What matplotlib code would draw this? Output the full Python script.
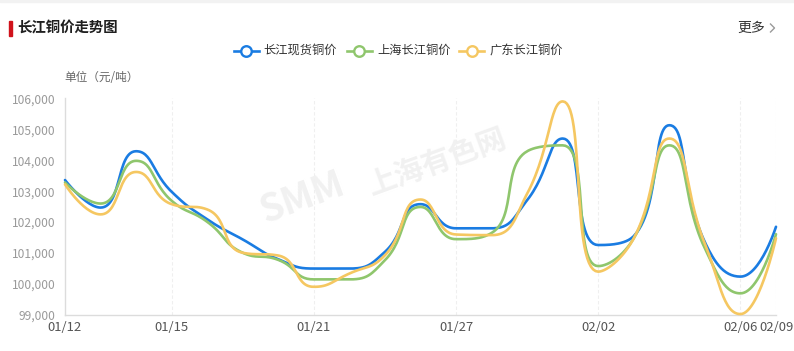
import numpy as np
import matplotlib
matplotlib.use("Agg")
import matplotlib.pyplot as plt
from matplotlib.lines import Line2D
from matplotlib.patches import Rectangle
from matplotlib.ticker import FuncFormatter

plt.rcParams['font.family'] = ['Noto Sans CJK SC', 'DejaVu Sans']

# Trading days
dates = ["01/12", "01/13", "01/14", "01/15", "01/16", "01/19", "01/20",
         "01/21", "01/22", "01/23", "01/26", "01/27", "01/28", "01/29",
         "01/30", "02/02", "02/03", "02/04", "02/05", "02/06", "02/09"]
tick_dates = ["01/12", "01/15", "01/21", "01/27", "02/02", "02/06", "02/09"]

# Prices, yuan per tonne
cj_spot = [103360, 102470, 104290, 102980, 102090, 101440, 100800, 100500,
           100500, 101040, 102580, 101800, 101800, 102710, 104700, 101260,
           101550, 105130, 101350, 100240, 101850]
sh_cj = [103280, 102600, 103980, 102690, 102010, 101010, 100780, 100150,
         100150, 100770, 102490, 101450, 101650, 104290, 104480, 100580,
         101480, 104480, 101150, 99700, 101610]
gd_cj = [103220, 102250, 103620, 102580, 102410, 101010, 100920, 99910,
         100340, 100930, 102730, 101600, 101580, 102920, 105900, 100400,
         101480, 104700, 101300, 99030, 101480]

series_names = ["长江现货铜价", "上海长江铜价", "广东长江铜价"]
series_values = [cj_spot, sh_cj, gd_cj]
colors = ["#1a7ce2", "#8fc66d", "#f5c761"]

y_ticks = list(range(99000, 106001, 1000))

W, H = 794, 351
fig = plt.figure(figsize=(W / 100, H / 100), dpi=100)
fig.patch.set_facecolor("white")


def fx(px):
    return px / W


def fy(py):
    return 1 - py / H


ax = fig.add_axes([fx(65), 36 / H, 711 / W, (315 - 98.3) / H])
ax.set_xlim(0, len(dates) - 1)
ax.set_ylim(y_ticks[0], y_ticks[-1])
ax.set_facecolor("none")

for side in ("top", "right"):
    ax.spines[side].set_visible(False)
for side in ("left", "bottom"):
    ax.spines[side].set_color("#dcdcdc")
    ax.spines[side].set_linewidth(1.0)

tick_idx = [dates.index(d) for d in tick_dates]
ax.set_xticks(tick_idx)
ax.set_xticklabels(tick_dates)
ax.set_yticks(y_ticks)
ax.yaxis.set_major_formatter(FuncFormatter(lambda v, p: f"{int(v):,}"))
ax.tick_params(axis="x", length=0, pad=4, labelsize=9.4, labelcolor="#555555")
ax.tick_params(axis="y", length=0, pad=7, labelsize=8.6, labelcolor="#9a9a9a")

# vertical split lines
for i in tick_idx[1:]:
    ax.axvline(i, color="#efefef", lw=0.8, ls=(0, (3, 2)), zorder=0)

# watermark
fig.text(fx(302), fy(198), "SMM", fontsize=27, weight="bold", style="italic",
         color="#f1f1f1", rotation=20, ha="center", va="center", zorder=0)
fig.text(fx(437), fy(162), "上海有色网", fontsize=21, weight="bold",
         color="#f1f1f1", rotation=20, ha="center", va="center", zorder=0)


def smooth_curve(pts, smooth=0.5, n=30):
    """Cubic Bezier smoothing with control points clamped between neighbours."""
    out = [pts[0]]
    N = len(pts)
    cp0 = pts[0].copy()
    for i in range(1, N):
        x, y = pts[i]
        px_, py_ = pts[i - 1]
        if i == N - 1:
            cp1 = np.array([x, y])
            ncp0 = None
        else:
            nx, ny = pts[i + 1]
            vx, vy = nx - px_, ny - py_
            lp = np.hypot(x - px_, y - py_)
            ln = np.hypot(nx - x, ny - y)
            r = ln / (ln + lp)
            ncx = x + vx * smooth * r
            ncy = y + vy * smooth * r
            ncx = min(ncx, max(nx, x)); ncy = min(ncy, max(ny, y))
            ncx = max(ncx, min(nx, x)); ncy = max(ncy, min(ny, y))
            vx, vy = ncx - x, ncy - y
            c1x = x - vx * lp / ln
            c1y = y - vy * lp / ln
            c1x = min(c1x, max(px_, x)); c1y = min(c1y, max(py_, y))
            c1x = max(c1x, min(px_, x)); c1y = max(c1y, min(py_, y))
            vx, vy = x - c1x, y - c1y
            ncx = x + vx * ln / lp
            ncy = y + vy * ln / lp
            cp1 = np.array([c1x, c1y])
            ncp0 = np.array([ncx, ncy])
        t = np.linspace(0, 1, n)[1:, None]
        p0 = pts[i - 1]
        p3 = pts[i]
        seg = ((1 - t) ** 3) * p0 + 3 * ((1 - t) ** 2) * t * cp0 \
            + 3 * (1 - t) * (t ** 2) * cp1 + (t ** 3) * p3
        out.extend(seg)
        cp0 = ncp0
    return np.array(out)


xs = np.arange(len(dates))
for vals, col in zip(series_values, colors):
    disp = ax.transData.transform(np.column_stack([xs, vals]))
    curve = ax.transData.inverted().transform(smooth_curve(disp))
    ax.plot(curve[:, 0], curve[:, 1], color=col, lw=1.9, clip_on=False,
            solid_capstyle="round", solid_joinstyle="round", zorder=3)

# header
fig.patches.append(Rectangle((fx(9), fy(35.7)), 3 / W, 15 / H,
                             transform=fig.transFigure, color="#d0121b"))
fig.text(fx(17.5), fy(28.3), "长江铜价走势图", fontsize=10.4, weight="bold",
         color="#1f1f1f", va="center", ha="left")
fig.text(fx(737), fy(28), "更多", fontsize=10, color="#333333",
         va="center", ha="left")
fig.add_artist(Line2D([fx(770.5), fx(774.5), fx(770.5)],
                      [fy(24), fy(28), fy(32)], color="#9a9a9a", lw=1.0,
                      transform=fig.transFigure))

# legend
legend_icons = [(233.5, 258.5, 263.5), (346.7, 371.7, 377), (459.3, 484, 489.3)]
ly = 50.5
for (x0, x1, tx), name, col in zip(legend_icons, series_names, colors):
    fig.add_artist(Line2D([fx(x0), fx(x1)], [fy(ly), fy(ly)], color=col,
                          lw=1.9, transform=fig.transFigure))
    fig.add_artist(Line2D([fx((x0 + x1) / 2)], [fy(ly)], marker="o", ms=7.6,
                          mfc="white", mec=col, mew=1.7, lw=0,
                          transform=fig.transFigure))
    fig.text(fx(tx), fy(ly), name, fontsize=8.8, color="#333333",
             va="center", ha="left")

fig.text(fx(64.5), fy(77.5), "单位（元/吨）", fontsize=8.4, color="#666666",
         va="center", ha="left")

# thin band across the top edge
fig.patches.append(Rectangle((0, fy(2)), 1, 2 / H, transform=fig.transFigure,
                             color="#f2f2f2"))

fig.savefig("out.png", dpi=100)
